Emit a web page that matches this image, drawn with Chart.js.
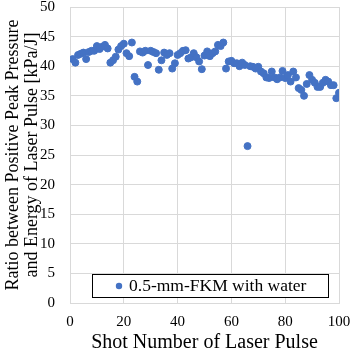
<!DOCTYPE html>
<html>
<head>
<meta charset="utf-8">
<script src="https://cdn.jsdelivr.net/npm/chart.js@4.4.1/dist/chart.umd.min.js"></script>
<style>
html,body{margin:0;padding:0;background:#fff;}
#wrap{width:350px;height:355px;position:relative;}
</style>
</head>
<body>
<div id="wrap"><canvas id="c" width="350" height="355"></canvas></div>
<script>
const seriesName = "0.5-mm-FKM with water";
const shots = [];
for (let i = 1; i <= 100; i++) shots.push(i);
const ratio = [
  41.2, 40.6, 41.9, 42.1, 42.3, 41.2, 42.4, 42.6, 42.6, 43.4,
  42.9, 43.3, 43.6, 43.0, 40.6, 41.0, 41.6, 42.8, 43.4, 43.8,
  42.2, 41.7, 44.0, 38.2, 37.4, 42.5, 42.3, 42.6, 40.2, 42.6,
  42.4, 42.2, 39.4, 41.0, 42.3, 41.9, 42.2, 39.6, 40.5, 41.9,
  42.2, 42.6, 42.7, 41.3, 41.5, 42.2, 41.5, 40.8, 39.5, 41.8,
  42.5, 41.7, 42.2, 42.5, 43.6, 43.4, 44.0, 39.6, 40.8, 40.9,
  40.5, 40.5, 40.0, 40.6, 40.2, 26.5, 40.0, 39.9, 39.6, 39.9,
  39.1, 38.8, 38.1, 38.0, 39.1, 38.1, 37.8, 38.1, 39.2, 38.0,
  38.5, 37.4, 39.1, 38.1, 36.3, 36.0, 35.0, 37.0, 38.5, 37.7,
  37.2, 36.5, 36.5, 37.2, 37.7, 37.4, 36.8, 36.8, 34.6, 35.5
];
const yTitle = ["Ratio between Positive Peak Pressure", "and Energy of Laser Pulse [kPa/J]"];
const xTitle = "Shot Number of Laser Pulse";

const pts = shots.map((s, i) => ({x: s, y: ratio[i]}));
const blue = "#4472C4";
const gridCol = "#d9d9d9";
const serif = "'Liberation Serif', 'Times New Roman', serif";

const legendBox = {
  id: 'legendBox',
  afterDraw(chart) {
    const ctx = chart.ctx;
    const a = chart.chartArea;
    const x0 = a.left + 22, y0 = a.bottom - 29, w = 236, h = 23;
    ctx.save();
    ctx.fillStyle = '#fff';
    ctx.fillRect(x0, y0, w, h);
    ctx.strokeStyle = '#000';
    ctx.lineWidth = 1;
    ctx.strokeRect(x0 + 0.5, y0 + 0.5, w, h);
    ctx.fillStyle = blue;
    ctx.beginPath();
    ctx.arc(x0 + 27, y0 + h / 2 + 0.5, 3.2, 0, Math.PI * 2);
    ctx.fill();
    ctx.fillStyle = '#000';
    ctx.font = "17.5px " + serif;
    ctx.textBaseline = 'middle';
    ctx.fillText(seriesName, x0 + 37, y0 + h / 2 + 1);
    ctx.restore();
  }
};

new Chart(document.getElementById('c'), {
  type: 'scatter',
  data: {
    datasets: [{
      label: seriesName,
      data: pts,
      backgroundColor: blue,
      borderColor: blue,
      pointRadius: 3.5,
      pointHoverRadius: 3.5
    }]
  },
  options: {
    responsive: false,
    animation: false,
    devicePixelRatio: 1,
    layout: {padding: {top: 7, right: 0, left: 0, bottom: 0}},
    plugins: {legend: {display: false}, tooltip: {enabled: false}},
    scales: {
      x: {
        type: 'linear', min: 0, max: 100,
        ticks: {stepSize: 20, color: '#000', font: {family: serif, size: 15}, padding: 10, maxRotation: 0},
        grid: {color: gridCol, drawTicks: false, lineWidth: 1},
        border: {color: gridCol},
        title: {display: true, text: xTitle, color: '#000', font: {family: serif, size: 20}, padding: {top: 0, bottom: 0}},
        afterFit(s) { s.height = 52; s.paddingRight = 11; s.paddingLeft = 0; }
      },
      y: {
        type: 'linear', min: 0, max: 50,
        ticks: {stepSize: 5, color: '#000', font: {family: serif, size: 15}, padding: 15},
        grid: {color: gridCol, drawTicks: false, lineWidth: 1},
        border: {color: gridCol},
        title: {display: true, text: yTitle, color: '#000', font: {family: serif, size: 18, lineHeight: 1.05}, padding: {top: 4, bottom: 0}},
        afterFit(s) { s.width = 70; s.paddingTop = 0; s.paddingBottom = 0; }
      }
    }
  },
  plugins: [legendBox]
});
</script>
</body>
</html>
